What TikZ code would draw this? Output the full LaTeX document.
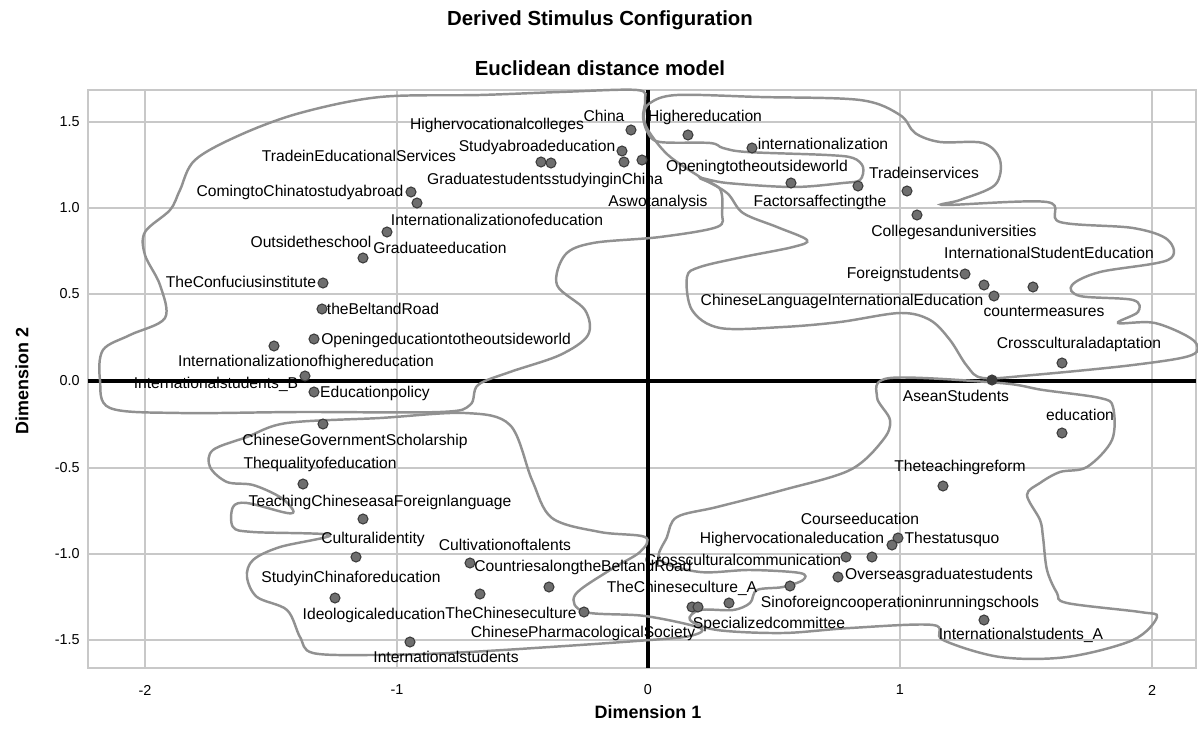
\documentclass[tikz,border=0pt]{standalone}
\usepackage{fontspec}
\setmainfont{Liberation Sans}
\usepackage{tikz}

\definecolor{gridgray}{RGB}{200,200,200}
\definecolor{loopgray}{RGB}{145,145,145}
\definecolor{dotfill}{RGB}{110,110,110}
\definecolor{dotline}{RGB}{60,60,60}

\begin{document}
\begin{tikzpicture}[x=0.02cm,y=-0.02cm,
	dot/.style={shape=circle,draw=dotline,fill=dotfill,line width=0.6pt,inner sep=0pt,minimum size=0.2cm},
	lbl/.style={inner sep=0pt,font=\fontsize{8.9}{10}\selectfont},
	tick/.style={inner sep=0pt,font=\fontsize{8.2}{9}\selectfont},
	loop/.style={draw=loopgray,line width=1.4pt,smooth cycle,tension=0.55}]
	\useasboundingbox (0,0) rectangle (1198,747);

	% frame and grid
	\draw[gridgray,line width=0.6pt] (88,90) rectangle (1196,668);
	\foreach \gx in {145,397,900,1152} \draw[gridgray,line width=0.6pt] (\gx,90) -- (\gx,668);
	\foreach \gy in {122,208,294,468,554,640} \draw[gridgray,line width=0.6pt] (88,\gy) -- (1196,\gy);
	\draw[line width=2.2pt] (648,90) -- (648,668);
	\draw[line width=2.2pt] (88,381) -- (1196,381);

	% titles
	\node[font=\bfseries\fontsize{11.6}{13}\selectfont] (title) at (600,20) {Derived Stimulus Configuration};
	\node[font=\bfseries\fontsize{11.6}{13}\selectfont] (subtitle) at (600,68) {Euclidean distance model};
	\node[font=\bfseries\fontsize{10.2}{12}\selectfont] (xlab) at (648,712) {Dimension 1};
	\node[font=\bfseries\fontsize{10.2}{12}\selectfont,rotate=90] (ylab) at (22,381) {Dimension 2};

	% tick labels
	\node[tick,anchor=east] (y1) at (80,122) {1.5};
	\node[tick,anchor=east] (y2) at (80,208) {1.0};
	\node[tick,anchor=east] (y3) at (80,294) {0.5};
	\node[tick,anchor=east] (y4) at (80,381) {0.0};
	\node[tick,anchor=east] (y5) at (80,468) {-0.5};
	\node[tick,anchor=east] (y6) at (80,554) {-1.0};
	\node[tick,anchor=east] (y7) at (80,640) {-1.5};
	\node[tick] (x1) at (145,690) {-2};
	\node[tick] (x2) at (397,690) {-1};
	\node[tick] (x3) at (648,690) {0};
	\node[tick] (x4) at (900,690) {1};
	\node[tick] (x5) at (1152,690) {2};

	% hand drawn groups
	\draw[loop] plot coordinates {(380,97) (480,95) (560,92) (637,90) (645,100) (643,117)
		(648,133) (660,142) (710,143) (723,148) (747,152) (827,155) (853,158) (863,167)
		(860,180) (843,183) (793,187) (727,183) (700,178) (720,189) (722,213) (717,227)
		(660,237) (593,243) (565,255) (557,285) (585,310) (588,335) (560,355) (510,372)
		(478,385) (470,405) (440,412) (300,412) (180,413) (110,408) (100,380) (103,350)
		(130,335) (165,318) (160,285) (145,255) (145,232) (170,210) (180,190) (195,160)
		(240,135) (300,113)};
	\draw[loop] plot coordinates {(650,103) (677,95) (760,97) (860,100) (900,115) (915,133)
		(940,142) (983,143) (1000,160) (995,185) (960,200) (945,205) (1047,202) (1060,222)
		(1133,228) (1168,240) (1168,260) (1100,272) (1072,285) (1080,296) (1133,300)
		(1138,312) (1118,323) (1155,323) (1193,340) (1192,355) (1133,365) (1033,375)
		(983,378) (967,366) (950,340) (930,320) (900,313) (840,322) (783,327) (720,328)
		(692,310) (687,277) (700,267) (743,257) (793,247) (807,240) (777,227) (743,213)
		(727,193) (700,177) (668,155) (648,130) (644,115)};
	\draw[loop] plot coordinates {(465,413) (510,425) (532,480) (552,518) (600,532) (645,537)
		(640,552) (610,570) (575,595) (585,612) (645,616) (700,628) (690,636) (650,640)
		(550,647) (450,653) (373,655) (313,653) (300,637) (287,610) (257,597) (247,577)
		(253,560) (280,547) (330,535) (253,532) (233,527) (233,507) (247,503) (287,513)
		(293,510) (280,497) (253,485) (227,482) (210,467) (213,450) (247,437) (287,423)
		(380,418)};
	\draw[loop] plot coordinates {(667,537) (677,517) (717,507) (783,490) (850,470) (883,440)
		(890,420) (877,397) (890,378) (1000,383) (1043,390) (1100,398) (1113,407) (1112,440)
		(1087,467) (1060,472) (1040,483) (1027,495) (1040,520) (1043,537) (1047,570)
		(1057,593) (1067,603) (1140,612) (1157,617) (1133,640) (1067,657) (1000,657)
		(943,640) (933,625) (850,628) (783,633) (717,630) (690,620) (700,610) (733,610)
		(750,603) (757,590) (783,587) (803,580) (800,573) (750,570) (700,572) (660,560)};

	% stimulus points
	\node[dot] (d1) at (631,130) {};
	\node[dot] (d2) at (688,135) {};
	\node[dot] (d3) at (752,148) {};
	\node[dot] (d4) at (622,151) {};
	\node[dot] (d5) at (624,162) {};
	\node[dot] (d6) at (642,160) {};
	\node[dot] (d7) at (541,162) {};
	\node[dot] (d8) at (551,163) {};
	\node[dot] (d9) at (791,183) {};
	\node[dot] (d10) at (858,186) {};
	\node[dot] (d11) at (907,191) {};
	\node[dot] (d12) at (411,192) {};
	\node[dot] (d13) at (417,203) {};
	\node[dot] (d14) at (917,215) {};
	\node[dot] (d15) at (387,232) {};
	\node[dot] (d16) at (363,258) {};
	\node[dot] (d17) at (965,274) {};
	\node[dot] (d18) at (323,283) {};
	\node[dot] (d19) at (984,285) {};
	\node[dot] (d20) at (1033,287) {};
	\node[dot] (d21) at (994,296) {};
	\node[dot] (d22) at (322,309) {};
	\node[dot] (d23) at (314,339) {};
	\node[dot] (d24) at (274,346) {};
	\node[dot] (d25) at (1062,363) {};
	\node[dot] (d26) at (305,376) {};
	\node[dot,fill=dotline] (d27) at (992,380) {};
	\node[dot] (d28) at (314,392) {};
	\node[dot] (d29) at (323,424) {};
	\node[dot] (d30) at (1062,433) {};
	\node[dot] (d31) at (303,484) {};
	\node[dot] (d32) at (943,486) {};
	\node[dot] (d33) at (363,519) {};
	\node[dot] (d34) at (898,538) {};
	\node[dot] (d35) at (892,545) {};
	\node[dot] (d36) at (356,557) {};
	\node[dot] (d37) at (846,557) {};
	\node[dot] (d38) at (872,557) {};
	\node[dot] (d39) at (470,563) {};
	\node[dot] (d40) at (838,577) {};
	\node[dot] (d41) at (549,587) {};
	\node[dot] (d42) at (790,586) {};
	\node[dot] (d43) at (480,594) {};
	\node[dot] (d44) at (335,598) {};
	\node[dot] (d45) at (729,603) {};
	\node[dot] (d46) at (692,607) {};
	\node[dot] (d47) at (698,607) {};
	\node[dot] (d48) at (584,612) {};
	\node[dot] (d49) at (984,620) {};
	\node[dot] (d50) at (410,642) {};

	% stimulus names
	\node[lbl] (china) at (604,116) {China};
	\node[lbl] (highedu) at (705,117) {Highereducation};
	\node[lbl] (hvcolleges) at (497,125) {Highervocationalcolleges};
	\node[lbl] (intlz) at (823,144) {internationalization};
	\node[lbl] (tradeedu) at (359,156) {TradeinEducationalServices};
	\node[lbl] (studyabroad) at (537,147) {Studyabroadeducation};
	\node[lbl] (openworld) at (757,167) {Openingtotheoutsideworld};
	\node[lbl] (tradeserv) at (924,173) {Tradeinservices};
	\node[lbl] (gradchina) at (545,180) {GraduatestudentsstudyinginChina};
	\node[lbl] (coming) at (300,192) {ComingtoChinatostudyabroad};
	\node[lbl] (swot) at (658,202) {Aswotanalysis};
	\node[lbl] (factors) at (820,202) {Factorsaffectingthe};
	\node[lbl] (intledu) at (497,220) {Internationalizationofeducation};
	\node[lbl] (colleges) at (954,232) {Collegesanduniversities};
	\node[lbl] (outside) at (311,242) {Outsidetheschool};
	\node[lbl] (gradedu) at (440,248) {Graduateeducation};
	\node[lbl] (intlstudedu) at (1049,253) {InternationalStudentEducation};
	\node[lbl] (foreign) at (903,274) {Foreignstudents};
	\node[lbl] (confucius) at (241,282) {TheConfuciusinstitute};
	\node[lbl] (beltroad) at (383,309) {theBeltandRoad};
	\node[lbl] (chlang) at (842,301) {ChineseLanguageInternationalEducation};
	\node[lbl] (counter) at (1044,312) {countermeasures};
	\node[lbl] (openedu) at (446,340) {Openingeducationtotheoutsideworld};
	\node[lbl] (crossadapt) at (1079,344) {Crossculturaladaptation};
	\node[lbl] (intlhigher) at (306,362) {Internationalizationofhighereducation};
	\node[lbl] (intlB) at (216,384) {Internationalstudents\_B};
	\node[lbl] (asean) at (956,396) {AseanStudents};
	\node[lbl] (edupolicy) at (375,393) {Educationpolicy};
	\node[lbl] (education) at (1080,415) {education};
	\node[lbl] (scholarship) at (355,441) {ChineseGovernmentScholarship};
	\node[lbl] (quality) at (320,464) {Thequalityofeducation};
	\node[lbl] (teachreform) at (960,467) {Theteachingreform};
	\node[lbl] (tcfl) at (380,502) {TeachingChineseasaForeignlanguage};
	\node[lbl] (course) at (860,519) {Courseeducation};
	\node[lbl] (hvedu) at (792,539) {Highervocationaleducation};
	\node[lbl] (status) at (952,539) {Thestatusquo};
	\node[lbl] (cultid) at (373,539) {Culturalidentity};
	\node[lbl] (cultivation) at (505,545) {Cultivationoftalents};
	\node[lbl] (crosscomm) at (743,560) {Crossculturalcommunication};
	\node[lbl] (countries) at (583,567) {CountriesalongtheBeltandRoad};
	\node[lbl] (studychina) at (351,578) {StudyinChinaforeducation};
	\node[lbl] (overseas) at (939,575) {Overseasgraduatestudents};
	\node[lbl] (cultureA) at (682,588) {TheChineseculture\_A};
	\node[lbl] (sino) at (900,603) {Sinoforeigncooperationinrunningschools};
	\node[lbl] (ideological) at (374,615) {Ideologicaleducation};
	\node[lbl] (culture) at (511,613) {TheChineseculture};
	\node[lbl] (specialized) at (769,624) {Specializedcommittee};
	\node[lbl] (pharma) at (583,633) {ChinesePharmacologicalSociety};
	\node[lbl] (intlA) at (1021,635) {Internationalstudents\_A};
	\node[lbl] (intlstud) at (446,657) {Internationalstudents};
\end{tikzpicture}
\end{document}
